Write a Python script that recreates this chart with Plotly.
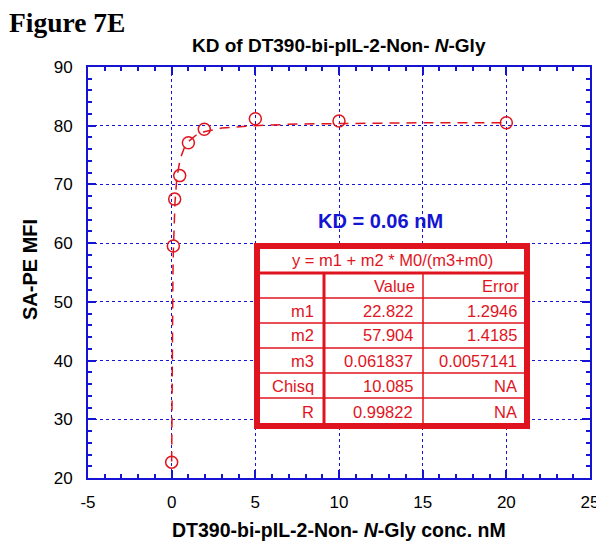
import plotly.graph_objects as go

# measured points
conc = [0, 0.1, 0.18, 0.48, 1.0, 1.95, 5, 10, 20]
mfi = [22.7, 59.5, 67.5, 71.5, 77.1, 79.4, 81.2, 80.8, 80.5]

# fitted curve
fit_x = [0, 0.005, 0.01, 0.02, 0.03, 0.05, 0.075, 0.1, 0.15, 0.2, 0.3, 0.5, 0.75, 1, 1.5, 2, 3, 5, 7.5, 10, 15, 20]
fit_y = [22.8, 27.3, 31.1, 37.0, 41.6, 48.7, 54.6, 58.6, 63.7, 67.0, 70.8, 74.3, 76.2, 77.3, 78.5, 79.0, 79.6, 80.0, 80.3, 80.4, 80.5, 80.5]

# tick labels
x_ticks = [-5, 0, 5, 10, 15, 20, 25]
x_labels = ["-5", "0", "5", "10", "15", "20", "25"]
y_ticks = [20, 30, 40, 50, 60, 70, 80, 90]
y_labels = ["20", "30", "40", "50", "60", "70", "80", "90"]

# fit parameter table
fit_eq = "y = m1 + m2 * M0/(m3+m0)"
col_heads = ["", "Value", "Error"]
row_names = ["m1", "m2", "m3", "Chisq", "R"]
row_values = ["22.822", "57.904", "0.061837", "10.085", "0.99822"]
row_errors = ["1.2946", "1.4185", "0.0057141", "NA", "NA"]

RED = "#e0141e"
BLUE = "#1414d2"
FONT = "Arial, Liberation Sans, sans-serif"

fig = go.Figure()
fig.add_trace(go.Scatter(x=fit_x, y=fit_y, mode="lines",
                         line=dict(color=RED, width=1.5, dash="10px,7px"), hoverinfo="skip"))
fig.add_trace(go.Scatter(x=conc, y=mfi, mode="markers",
                         marker=dict(symbol="circle-open", size=12, color=RED, line=dict(width=1.5))))

# the page body has an 8px margin, so the figure is drawn 8px smaller
OFF = 8
W, H = 604 - OFF, 550 - OFF
# plot area in window pixels -> paper helpers for the table
L, R, T, B = 88, 590, 67, 478
def px(x):
    return (x - L) / (R - L)
def py(y):
    return (B - y) / (B - T)

shapes = []
anns = []
# table geometry
tx0, tx1, ty0, ty1 = 257, 527, 246, 426
cols = [257, 324, 423, 527]
rows = [246, 273, 298, 323, 348, 373, 398, 426]
shapes.append(dict(type="rect", xref="paper", yref="paper", x0=px(tx0), x1=px(tx1),
                   y0=py(ty1), y1=py(ty0), line=dict(color=RED, width=6), fillcolor="white", layer="above"))
for yy in rows[1:-1]:
    shapes.append(dict(type="line", xref="paper", yref="paper", x0=px(tx0), x1=px(tx1),
                       y0=py(yy), y1=py(yy), line=dict(color=RED, width=1.5 if yy != 273 else 3)))
for xx in cols[1:-1]:
    shapes.append(dict(type="line", xref="paper", yref="paper", x0=px(xx), x1=px(xx),
                       y0=py(ty1), y1=py(273), line=dict(color=RED, width=1.5 if xx != 324 else 3)))

tf = dict(family=FONT, size=16.5, color=RED)
anns.append(dict(text=fit_eq, xref="paper", yref="paper", x=px((tx0 + tx1) / 2), y=py(260),
                 showarrow=False, font=tf, xanchor="center", yanchor="middle"))
for j, h in enumerate(col_heads):
    if h:
        anns.append(dict(text=h, xref="paper", yref="paper", x=px(cols[j + 1] - 6), y=py(286),
                         showarrow=False, font=tf, xanchor="right", yanchor="middle"))
for i in range(len(row_names)):
    yc = (rows[i + 2] + rows[i + 3]) / 2
    for j, t in enumerate([row_names[i], row_values[i], row_errors[i]]):
        anns.append(dict(text=t, xref="paper", yref="paper", x=px(cols[j + 1] - 8), y=py(yc),
                         showarrow=False, font=tf, xanchor="right", yanchor="middle"))

anns.append(dict(text="<b>KD = 0.06 nM</b>", x=12.5, y=63.8, xref="x", yref="y", showarrow=False,
                 font=dict(family=FONT, size=20, color=BLUE)))
anns.append(dict(text="<b>Figure 7E</b>", xref="paper", yref="paper", x=px(OFF), y=py(22.5),
                 showarrow=False, xanchor="left", yanchor="middle", borderpad=0,
                 font=dict(family="Times New Roman, Liberation Serif, serif", size=27.5, color="black")))
anns.append(dict(text="<b>KD of DT390-bi-pIL-2-Non- <i>N</i>-Gly</b>", xref="paper", yref="paper",
                 x=px(339), y=py(45), showarrow=False, xanchor="center", yanchor="middle",
                 font=dict(family=FONT, size=19, color="black")))
anns.append(dict(text="<b>DT390-bi-pIL-2-Non- <i>N</i>-Gly conc. nM</b>", xref="paper", yref="paper",
                 x=px(339), y=py(530), showarrow=False, xanchor="center", yanchor="middle",
                 font=dict(family=FONT, size=19.5, color="black")))
anns.append(dict(text="<b>SA-PE MFI</b>", xref="paper", yref="paper", textangle=-90,
                 x=px(30), y=py(270), showarrow=False, xanchor="center", yanchor="middle",
                 font=dict(family=FONT, size=20, color="black")))

axis_common = dict(showline=True, linecolor=BLUE, linewidth=2, mirror="ticks",
                   ticks="inside", ticklen=8, tickcolor=BLUE, tickwidth=1.5,
                   showgrid=True, gridcolor=BLUE, griddash="dot", gridwidth=1,
                   zeroline=False, automargin=False,
                   tickfont=dict(family=FONT, size=17, color="black"))

fig.update_xaxes(range=[-5, 25], tickvals=x_ticks, ticktext=x_labels, ticklabelstandoff=8,
                 minor=dict(dtick=1, tick0=0, ticks="inside", ticklen=4, tickcolor=BLUE, showgrid=False),
                 **axis_common)
fig.update_yaxes(range=[20, 90], tickvals=y_ticks, ticktext=y_labels, ticklabelstandoff=10,
                 minor=dict(dtick=2, tick0=0, ticks="inside", ticklen=4, tickcolor=BLUE, showgrid=False),
                 **axis_common)

fig.update_layout(width=W, height=H, showlegend=False, template="none",
                  margin=dict(l=L - OFF, r=604 - R, t=T - OFF, b=550 - B),
                  paper_bgcolor="white", plot_bgcolor="white",
                  shapes=shapes, annotations=anns)

fig.write_html("out.html")
